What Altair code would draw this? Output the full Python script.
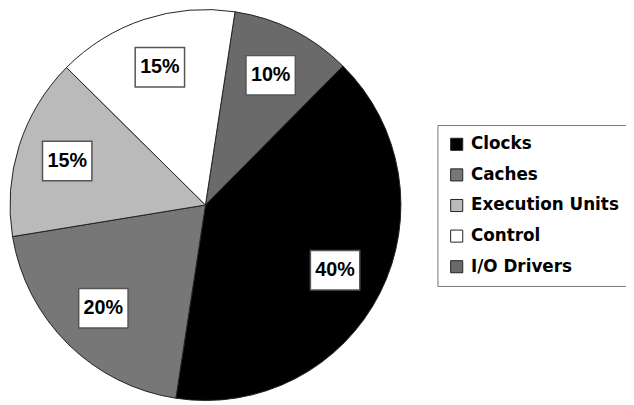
import math
import altair as alt
import pandas as pd

# slices in clockwise order starting near 12 o'clock
parts = ["I/O Drivers", "Clocks", "Caches", "Execution Units", "Control"]
shares = [10, 40, 20, 15, 15]
labels = ["10%", "40%", "20%", "15%", "15%"]
legend_order = ["Clocks", "Caches", "Execution Units", "Control", "I/O Drivers"]
legend_colors = ["#000000", "#777777", "#bababa", "#ffffff", "#6a6a6a"]

df = pd.DataFrame({"part": parts, "share": shares, "label": labels, "idx": list(range(len(parts)))})

START = math.radians(8.7)
CX, CY, R, LR = 200, 197, 198, 147

base = alt.Chart(df)

arc = base.mark_arc(outerRadius=R, stroke="#222222", strokeWidth=1).encode(
    theta=alt.Theta("share:Q", stack=True, scale=alt.Scale(range=[START, START + 2 * math.pi])),
    order=alt.Order("idx:Q"),
    color=alt.Color(
        "part:N",
        scale=alt.Scale(domain=legend_order, range=legend_colors),
        legend=alt.Legend(
            title=None, orient="none", legendX=435, legendY=116,
            labelFont="DejaVu Sans", labelFontWeight="bold", labelFontSize=17,
            labelColor="#000000", labelLimit=400, labelOffset=6,
            symbolType="square", symbolSize=150, symbolStrokeColor="#222222",
            symbolStrokeWidth=1, rowPadding=13, padding=11,
            strokeColor="#777777", fillColor="#ffffff",
        ),
    ),
    x=alt.value(CX),
    y=alt.value(CY),
)

pos = base.transform_window(
    cum="sum(share)", sort=[alt.SortField("idx")], frame=[None, 0]
).transform_joinaggregate(total="sum(share)").transform_calculate(
    ang=f"{START} + (datum.cum - datum.share / 2) / datum.total * 2 * PI",
).transform_calculate(
    px=f"{CX} + {LR} * sin(datum.ang)",
    py=f"{CY} - {LR} * cos(datum.ang)",
)

box = pos.mark_point(
    shape="M-1,-0.8H1V0.8H-1Z", size=2500, filled=True, fill="#ffffff",
    stroke="#555555", strokeWidth=1.5, opacity=1,
).encode(
    x=alt.X("px:Q", scale=None),
    y=alt.Y("py:Q", scale=None),
)

text = pos.mark_text(
    font="Liberation Sans", fontWeight="bold", fontSize=20, color="#000000",
    align="center", baseline="middle",
).encode(
    x=alt.X("px:Q", scale=None),
    y=alt.Y("py:Q", scale=None),
    text="label:N",
)

chart = alt.layer(arc, box, text).properties(
    width=626, height=396, padding=0, autosize="none"
).configure_view(stroke=None)

chart.save("out.html", embed_options={"renderer": "svg", "actions": False})
